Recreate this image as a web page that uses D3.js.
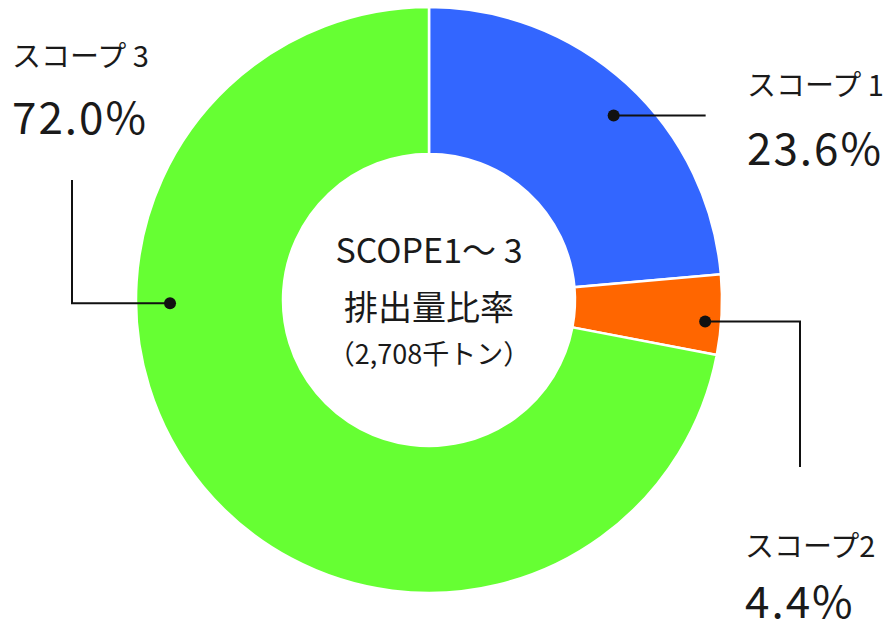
<!DOCTYPE html>
<html><head><meta charset="utf-8">
<script src="https://cdn.jsdelivr.net/npm/d3@7"></script>
<style>html,body{margin:0;padding:0;background:#fff;}svg{display:block;}</style>
</head><body>
<svg id="chart" width="888" height="631"></svg>
<script>
const categories = ["スコープ 1", "スコープ2", "スコープ 3"];
const values = [23.6, 4.4, 72.0];
const valueLabels = ["23.6%", "4.4%", "72.0%"];
const colors = ["#3366FF", "#FF6600", "#66FF33"];
const centerLines = ["SCOPE1～ 3", "排出量比率", "（2,708千トン）"];

const W = 888, H = 631, cx = 429, cy = 300, rOuter = 293, rInner = 146;
const font = "'Noto Sans CJK JP','Noto Sans',sans-serif";
const svg = d3.select("#chart");
const g = svg.append("g").attr("transform", `translate(${cx},${cy})`);

const pie = d3.pie().sort(null).value(d => d);
const arcs = pie(values);
const arc = d3.arc().innerRadius(rInner).outerRadius(rOuter);

g.selectAll("path.slice").data(arcs).enter().append("path")
  .attr("class", "slice")
  .attr("d", arc)
  .attr("fill", (d, i) => colors[i])
  .attr("stroke", "#fff").attr("stroke-width", 2.5);

// leader layout: where the dot sits within each slice (fraction of slice span, radius)
const leaders = [
  {frac: 0.53, r: 261, path: p => [[p[0], p[1]], [p[0] + 92, p[1]]]},
  {frac: 0.60, r: 277, path: p => [[p[0], p[1]], [371, p[1]], [371, 167]]},
  {frac: 0.65, r: 259, path: p => [[p[0], p[1]], [-357, p[1]], [-357, -120]]}
];
const pts = arcs.map((d, i) => {
  const a = d.startAngle + (d.endAngle - d.startAngle) * leaders[i].frac;
  return [Math.sin(a) * leaders[i].r, -Math.cos(a) * leaders[i].r];
});
const line = d3.line();
pts.forEach((p, i) => {
  g.append("path").attr("d", line(leaders[i].path(p)))
    .attr("fill", "none").attr("stroke", "#111").attr("stroke-width", 2);
  g.append("circle").attr("cx", p[0]).attr("cy", p[1]).attr("r", 6).attr("fill", "#111");
});

// outer labels
const labelPos = [
  {x: 747, y1: 96, y2: 165},
  {x: 745, y1: 557, y2: 618},
  {x: 12, y1: 67, y2: 134}
];
categories.forEach((c, i) => {
  svg.append("text").attr("x", labelPos[i].x).attr("y", labelPos[i].y1)
    .attr("font-family", font).attr("font-size", 29).attr("fill", "#1a1a1a").text(c);
  svg.append("text").attr("x", labelPos[i].x).attr("y", labelPos[i].y2)
    .attr("font-family", font).attr("font-size", 44).attr("fill", "#1a1a1a")
    .attr("letter-spacing", 2).text(valueLabels[i]);
});

// center text
const cSizes = [34, 34, 27];
const cY = [263, 320, 364];
centerLines.forEach((t, i) => {
  svg.append("text").attr("x", cx).attr("y", cY[i]).attr("text-anchor", "middle")
    .attr("font-family", font).attr("font-size", cSizes[i]).attr("fill", "#1a1a1a").text(t);
});
</script>
</body></html>
